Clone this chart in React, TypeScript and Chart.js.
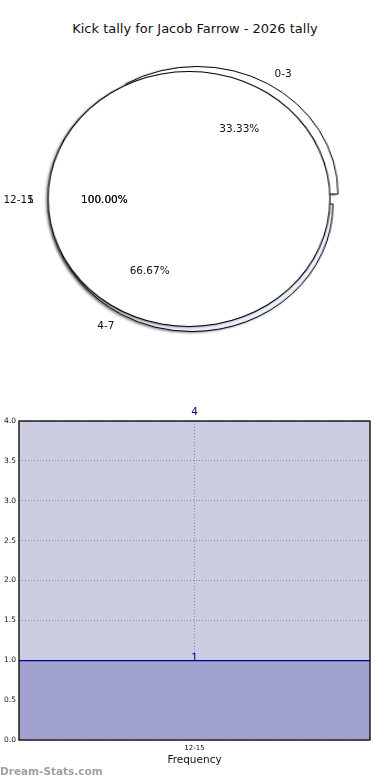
import React, { useEffect, useRef } from "react";
import { Chart, registerables } from "chart.js";
Chart.register(...registerables);

// ---------- data ----------
const chartTitle = "Kick tally for Jacob Farrow - 2026 tally";
const pieCategories = ["0-3", "4-7"];
const pieValues = [1, 2];
const overlayCategories = ["12-15"];
const overlayValues = [1];
const barCategories = ["12-15"];
const barValues = [1];
const yTickValues = [0, 0.5, 1, 1.5, 2, 2.5, 3, 3.5, 4];
const yTopLabel = "4";
const xAxisTitle = "Frequency";
const watermark = "Dream-Stats.com";

// ---------- styling / layout ----------
const FONT = "'DejaVu Sans', Verdana, sans-serif";
const R = 127.5;
const RX = 141;
const SX = RX / R;
const BOX = 300;
const FRONT = { cx: 189, cy: 198.5 };
const SLICE_CENTERS = [
  { cx: 197, cy: 194 },
  { cx: 192, cy: 203.5 },
];
const SLICE_FILLS = ["#ffffff", "#e8eefb"];
const SHADOW = "drop-shadow(-1.5px 1.5px 1px rgba(0,0,0,0.45))";
const NAVY = "#000088";
const PLOT_BG = "rgb(204,204,227)";
const BAR_FILL = "rgb(162,162,208)";
const GRID = "rgba(125,125,150,0.85)";

type PieProps = {
  labels: string[];
  values: number[];
  fills: string[];
  borders: string[];
  borderWidth: number;
  cx: number;
  cy: number;
  rotation: number;
  radius: number;
  cutout: string;
  shadow: boolean;
};

function PieLayer(p: PieProps) {
  const ref = useRef<HTMLCanvasElement>(null);
  useEffect(() => {
    const chart = new Chart(ref.current!, {
      type: "doughnut",
      data: {
        labels: p.labels,
        datasets: [
          {
            data: p.values,
            backgroundColor: p.fills,
            borderColor: p.borders,
            borderWidth: p.borderWidth,
            hoverOffset: 0,
          },
        ],
      },
      options: {
        animation: false,
        responsive: true,
        maintainAspectRatio: false,
        radius: p.radius,
        cutout: p.cutout,
        rotation: p.rotation,
        events: [],
        layout: { padding: 0 },
        plugins: {
          legend: { display: false },
          tooltip: { enabled: false },
          title: { display: false },
        },
      } as any,
    });
    return () => chart.destroy();
  }, []);
  return (
    <div
      style={{
        position: "absolute",
        left: p.cx - BOX / 2,
        top: p.cy - BOX / 2,
        width: BOX,
        height: BOX,
        transform: `scaleX(${SX})`,
        filter: p.shadow ? SHADOW : "none",
      }}
    >
      <canvas ref={ref} />
    </div>
  );
}

function Txt(props: {
  x: number;
  y: number;
  text: string;
  align?: "left" | "right" | "center";
  size?: number;
  color?: string;
  weight?: string;
}) {
  const { x, y, text, align = "center", size = 10.5, color = "#111", weight = "normal" } = props;
  const tx = align === "left" ? "0" : align === "right" ? "-100%" : "-50%";
  return (
    <div
      style={{
        position: "absolute",
        left: x,
        top: y,
        transform: `translate(${tx}, -50%)`,
        fontFamily: FONT,
        fontSize: size,
        fontWeight: weight as any,
        color,
        lineHeight: 1,
        whiteSpace: "nowrap",
      }}
    >
      {text}
    </div>
  );
}

function pieLabelNodes() {
  const nodes: React.ReactNode[] = [];
  const total = pieValues.reduce((a, b) => a + b, 0);
  let cum = 0;
  pieValues.forEach((v, i) => {
    const mid = ((cum + v / 2) / total) * 2 * Math.PI;
    cum += v;
    const c = SLICE_CENTERS[i];
    const cos = Math.cos(mid);
    const sin = Math.sin(mid);
    nodes.push(
      <Txt
        key={"l" + i}
        x={c.cx + 1.1 * RX * cos}
        y={c.cy - 1.1 * R * sin}
        text={pieCategories[i]}
        align={cos >= 0 ? "left" : "right"}
      />
    );
    nodes.push(
      <Txt
        key={"p" + i}
        x={c.cx + 0.6 * RX * cos}
        y={c.cy - 0.6 * R * sin}
        text={((v / total) * 100).toFixed(2) + "%"}
      />
    );
  });
  const oTotal = overlayValues.reduce((a, b) => a + b, 0);
  let oc = 0;
  overlayValues.forEach((v, i) => {
    const ang = ((oc + v / 2) / oTotal) * 2 * Math.PI;
    oc += v;
    const cos = Math.cos(ang);
    const sin = Math.sin(ang);
    const lx = FRONT.cx + 1.1 * RX * cos;
    const ly = FRONT.cy - 1.1 * R * sin;
    const al = cos >= 0 ? "left" : "right";
    nodes.push(<Txt key={"ol" + i} x={lx} y={ly} text={overlayCategories[i]} align={al} />);
    nodes.push(<Txt key={"ov" + i} x={lx} y={ly} text={String(v)} align={al} />);
    const pct = ((v / oTotal) * 100).toFixed(2) + "%";
    const px = FRONT.cx + 0.6 * RX * cos;
    const py = FRONT.cy - 0.6 * R * sin;
    nodes.push(<Txt key={"op" + i} x={px} y={py} text={pct} />);
    nodes.push(<Txt key={"op2" + i} x={px} y={py} text={pct} />);
  });
  return nodes;
}

function BarChart() {
  const ref = useRef<HTMLCanvasElement>(null);
  useEffect(() => {
    const plotDecor = {
      id: "plotDecor",
      beforeDraw(chart: any) {
        const { ctx, chartArea: a } = chart;
        ctx.save();
        ctx.fillStyle = PLOT_BG;
        ctx.fillRect(a.left, a.top, a.right - a.left, a.bottom - a.top);
        ctx.restore();
      },
      afterDraw(chart: any) {
        const { ctx, chartArea: a, scales } = chart;
        ctx.save();
        ctx.strokeStyle = "#000";
        ctx.lineWidth = 1.3;
        ctx.strokeRect(a.left, a.top, a.right - a.left, a.bottom - a.top);
        ctx.fillStyle = NAVY;
        ctx.font = `10.5px ${FONT}`;
        ctx.textAlign = "center";
        ctx.textBaseline = "alphabetic";
        barValues.forEach((v, i) => {
          const x = scales.x.getPixelForValue(i);
          ctx.fillText(String(v), x, scales.y.getPixelForValue(v) + 0.5);
        });
        ctx.fillText(yTopLabel, scales.x.getPixelForValue(0), a.top - 6);
        ctx.restore();
      },
    };
    const chart = new Chart(ref.current!, {
      type: "bar",
      data: {
        labels: barCategories,
        datasets: [
          {
            data: barValues,
            backgroundColor: BAR_FILL,
            borderColor: NAVY,
            borderWidth: { top: 1.3, left: 0, right: 0, bottom: 0 },
            borderSkipped: false,
            barPercentage: 1,
            categoryPercentage: 1,
          },
        ],
      },
      options: {
        animation: false,
        responsive: true,
        maintainAspectRatio: false,
        events: [],
        layout: { padding: { top: 21, right: 20, left: 0, bottom: 0 } },
        plugins: { legend: { display: false }, tooltip: { enabled: false } },
        scales: {
          x: {
            z: 1,
            offset: true,
            grid: {
              offset: false,
              drawTicks: false,
              color: GRID,
              lineWidth: 1,
            },
            border: { display: false, dash: [1, 2] },
            ticks: { padding: 4, color: "#111", font: { family: FONT, size: 7 } },
            title: {
              display: true,
              text: xAxisTitle,
              color: "#111",
              font: { family: FONT, size: 10.5 },
              padding: { top: 0, bottom: 0 },
            },
            afterFit(scale: any) {
              scale.height = 27;
            },
          },
          y: {
            z: 1,
            min: yTickValues[0],
            max: yTickValues[yTickValues.length - 1],
            afterBuildTicks(scale: any) {
              scale.ticks = yTickValues.map((v) => ({ value: v }));
            },
            grid: {
              drawTicks: false,
              color: GRID,
              lineWidth: 1,
            },
            border: { display: false, dash: [1, 2] },
            ticks: {
              padding: 3,
              color: "#111",
              font: { family: FONT, size: 7.5 },
              callback: (v: any) => Number(v).toFixed(1),
            },
            afterFit(scale: any) {
              scale.width = 19;
            },
          },
        },
      } as any,
      plugins: [plotDecor],
    });
    return () => chart.destroy();
  }, []);
  return (
    <div style={{ position: "absolute", left: 0, top: 400, width: 390, height: 367 }}>
      <canvas ref={ref} />
    </div>
  );
}

export default function App() {
  const total = pieValues.reduce((a, b) => a + b, 0);
  const rotation = 90 - (pieValues[0] / total) * 360;
  const clear = "rgba(0,0,0,0)";
  const ringCutout = `${((R - 0.55) / (R + 0.55)) * 100}%`;
  return (
    <div
      style={{
        position: "absolute",
        left: 0,
        top: 0,
        width: 390,
        height: 780,
        background: "#fff",
        overflow: "hidden",
      }}
    >
      <div
        style={{
          position: "absolute",
          left: 0,
          top: 21,
          width: 390,
          textAlign: "center",
          fontFamily: FONT,
          fontSize: 13,
          lineHeight: "16px",
          color: "#111",
        }}
      >
        {chartTitle}
      </div>
      <PieLayer
        labels={pieCategories}
        values={pieValues}
        fills={[clear, SLICE_FILLS[1]]}
        borders={[clear, "#000"]}
        borderWidth={1}
        cx={SLICE_CENTERS[1].cx}
        cy={SLICE_CENTERS[1].cy}
        rotation={rotation}
        radius={R}
        cutout="0%"
        shadow={true}
      />
      <PieLayer
        labels={pieCategories}
        values={pieValues}
        fills={[SLICE_FILLS[0], clear]}
        borders={["#000", clear]}
        borderWidth={1}
        cx={SLICE_CENTERS[0].cx}
        cy={SLICE_CENTERS[0].cy}
        rotation={rotation}
        radius={R}
        cutout="0%"
        shadow={true}
      />
      {/* 12-15 full wedge: white fill */}
      <PieLayer
        labels={overlayCategories}
        values={overlayValues}
        fills={["#ffffff"]}
        borders={[clear]}
        borderWidth={0}
        cx={FRONT.cx}
        cy={FRONT.cy}
        rotation={-90}
        radius={R}
        cutout="0%"
        shadow={true}
      />
      {/* 12-15 full wedge: edge ring */}
      <PieLayer
        labels={overlayCategories}
        values={overlayValues}
        fills={["#000000"]}
        borders={[clear]}
        borderWidth={0}
        cx={FRONT.cx}
        cy={FRONT.cy}
        rotation={-90}
        radius={R + 0.55}
        cutout={ringCutout}
        shadow={false}
      />
      {pieLabelNodes()}
      <BarChart />
      <Txt x={0} y={771} text={watermark} align="left" size={10.5} color="#a0a0a0" weight="bold" />
    </div>
  );
}
